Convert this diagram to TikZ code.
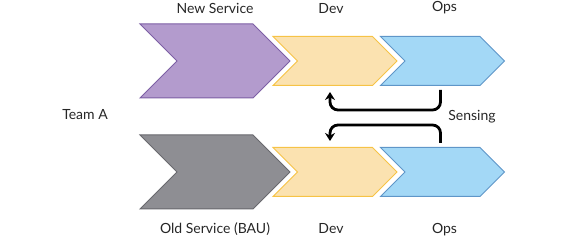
\documentclass[tikz,border=0pt]{standalone}
\usepackage{fontspec}
\setmainfont{Lato}
\usetikzlibrary{shapes.symbols,positioning,arrows.meta}
\definecolor{newpurple}{RGB}{179,155,205}
\definecolor{newpurpleline}{RGB}{125,95,165}
\definecolor{oldgray}{RGB}{142,142,147}
\definecolor{oldgrayline}{RGB}{105,105,110}
\definecolor{devyellow}{RGB}{251,226,176}
\definecolor{devyellowline}{RGB}{246,195,70}
\definecolor{opsblue}{RGB}{163,216,246}
\definecolor{opsblueline}{RGB}{95,150,200}
\tikzset{
  stagebox/.style={
    signal, signal from=west, signal to=east,
    signal pointer angle=90, inner sep=0pt, line width=1pt
  },
  bigstage/.style={stagebox, minimum width=150pt, minimum height=74pt},
  smallstage/.style={stagebox, minimum width=124pt, minimum height=49pt},
  stagelabel/.style={font=\fontsize{14}{16}\selectfont, text=black!85},
  sensearrow/.style={
    line width=2.8pt, rounded corners=8pt,
    -{Stealth[length=8pt,width=10pt]},
    shorten <=4pt, shorten >=6pt
  },
}

\begin{document}
\begin{tikzpicture}[x=1pt,y=-1pt]
\useasboundingbox (0,0) rectangle (566,237);

%% ── New service row (top) ────────────────────────────────────────────────
\node[bigstage, fill=newpurple, draw=newpurpleline] (newsvc) at (215,61) {};
\node[smallstage, fill=devyellow, draw=devyellowline] (devA) at (335,61) {};
\node[smallstage, fill=opsblue, draw=opsblueline] (opsA) at (442.5,61) {};

%% ── Old service row (bottom) ─────────────────────────────────────────────
\node[bigstage, fill=oldgray, draw=oldgrayline] (oldsvc) at (215,172) {};
\node[smallstage, fill=devyellow, draw=devyellowline] (devB) at (335,172) {};
\node[smallstage, fill=opsblue, draw=opsblueline] (opsB) at (442.5,172) {};

%% ── Labels ───────────────────────────────────────────────────────────────
\node[stagelabel, above=6pt of newsvc.north] {New Service};
\node[stagelabel, above=6pt of newsvc.north -| devA, xshift=-4pt] {Dev};
\node[stagelabel, above=6pt of newsvc.north -| opsA, xshift=2pt] {Ops};
\node[stagelabel, below=10pt of oldsvc.south] {Old Service (BAU)};
\node[stagelabel, below=10pt of oldsvc.south -| devB, xshift=-4pt] {Dev};
\node[stagelabel, below=10pt of oldsvc.south -| opsB, xshift=2pt] {Ops};
\node[stagelabel] (team) at (85,115) {Team A};
\node[stagelabel] (sensing) at (472,117) {Sensing};

%% ── Sensing feedback loops ───────────────────────────────────────────────
\coordinate (turnA) at (0,110);
\coordinate (turnB) at (0,125);
\draw[sensearrow] ([xshift=-2pt]opsA.south) -- ([xshift=-2pt]opsA.south |- turnA)
  -| ([xshift=-5pt]devA.south);
\draw[sensearrow] ([xshift=-2pt]opsB.north) -- ([xshift=-2pt]opsB.north |- turnB)
  -| ([xshift=-5pt]devB.north);

\end{tikzpicture}
\end{document}
